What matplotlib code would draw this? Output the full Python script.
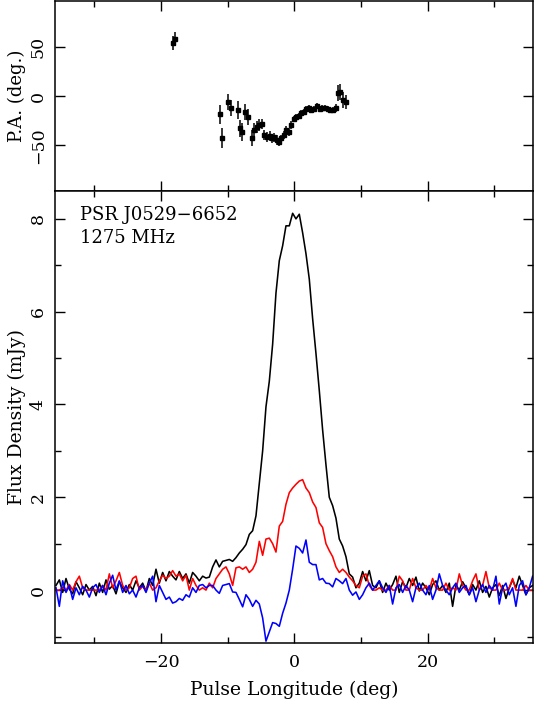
import numpy as np
import matplotlib
matplotlib.use("Agg")
import matplotlib.pyplot as plt
from matplotlib.ticker import MultipleLocator

# ---------------- data ----------------
lon_start = -35.75
lon_step = 0.5

total_I = [
    0.10, 0.22, -0.05, 0.25, 0.02, -0.08, 0.18, 0.05, -0.10, 0.12, 0.00, 0.08, -0.12, 0.15, -0.05, 0.22,
    0.02, 0.10, -0.08, 0.18, 0.05, -0.05, 0.12, 0.00, 0.20, 0.05, 0.15, -0.02, 0.25, 0.10, 0.45, 0.15,
    0.38, 0.20, 0.40, 0.30, 0.22, 0.40, 0.25, 0.35, 0.15, 0.38, 0.30, 0.20,
    0.30, 0.26, 0.28, 0.50, 0.65, 0.50, 0.62, 0.64, 0.66, 0.62, 0.70, 0.80, 0.88, 0.98, 1.20, 1.28,
    1.60, 2.30, 3.00, 3.95, 4.50, 5.30, 6.40, 7.10, 7.42, 7.85, 7.85, 8.12, 8.00, 8.10, 7.70, 7.25,
    6.70, 5.85, 5.10, 4.30, 3.45, 2.70, 2.00, 1.82, 1.55, 1.10, 0.95, 0.72, 0.35, 0.28, 0.05,
    0.15, 0.40, 0.20, 0.42, 0.10, 0.05, 0.20, -0.05, 0.15, 0.00, 0.12, 0.30, -0.05, 0.18, 0.05, 0.25,
    0.10, 0.28, -0.02, 0.15, 0.05, -0.10, 0.12, 0.20, 0.00, 0.10, -0.05, 0.15, -0.35, 0.10, 0.00, 0.18,
    0.05, -0.10, 0.12, 0.00, 0.20, -0.05, 0.08, -0.15, 0.05, 0.12, -0.12, 0.10, -0.18, 0.05, 0.22, 0.05,
    0.30, 0.10, -0.10, 0.05, 0.10,
]

linear_L = [
    0.00, 0.00, 0.05, 0.00, 0.12, 0.00, 0.18, 0.30, 0.05, 0.00, 0.00, 0.00, 0.00, 0.00, 0.10, 0.00,
    0.35, 0.05, 0.20, 0.38, 0.10, 0.00, 0.05, 0.25, 0.30, 0.00, 0.08, 0.00, 0.15, 0.00, 0.05, 0.20,
    0.32, 0.25, 0.30, 0.42, 0.30, 0.35, 0.20, 0.32, 0.00, 0.25, 0.10, 0.00,
    0.05, 0.00, 0.15, 0.05, 0.25, 0.35, 0.45, 0.50, 0.35, 0.10, 0.48, 0.50, 0.45, 0.50, 0.38, 0.45,
    0.60, 1.05, 0.75, 1.10, 1.12, 1.00, 0.82, 1.38, 1.48, 1.85, 2.10, 2.20, 2.28, 2.35, 2.38, 2.20,
    2.10, 1.90, 1.78, 1.45, 1.35, 1.00, 0.85, 0.72, 0.50, 0.38, 0.45, 0.38, 0.28, 0.20, 0.10,
    0.05, 0.30, 0.35, 0.10, 0.00, 0.00, 0.05, 0.00, 0.00, 0.10, 0.00, 0.00, 0.30, 0.20, 0.00, 0.00,
    0.25, 0.05, 0.00, 0.00, 0.10, 0.00, 0.25, 0.05, 0.00, 0.00, 0.15, 0.00, 0.05, 0.00, 0.35, 0.10,
    0.00, 0.00, 0.20, 0.35, 0.00, 0.10, 0.40, 0.05, 0.00, 0.00, 0.15, 0.00, 0.00, 0.05, 0.25, 0.00,
    0.00, 0.00, 0.10, 0.00, 0.00,
]

circular_V = [
    0.05, -0.35, 0.20, -0.05, 0.10, -0.20, 0.05, -0.10, 0.08, 0.00, -0.15, 0.05, 0.12, -0.05, 0.10, -0.10,
    0.15, 0.32, 0.00, 0.20, -0.05, 0.10, -0.08, 0.00, -0.15, 0.05, 0.10, -0.05, 0.15, 0.30, -0.25, 0.10,
    -0.05, -0.20, -0.15, -0.28, -0.25, -0.18, -0.22, -0.10, -0.15, 0.05, -0.05, 0.10,
    0.12, 0.05, 0.10, 0.10, 0.00, -0.07, 0.10, 0.12, 0.14, -0.04, -0.05, -0.20, -0.36, -0.10, -0.20, -0.35,
    -0.22, -0.30, -0.60, -1.10, -0.90, -0.70, -0.72, -0.78, -0.50, -0.28, 0.00, 0.45, 0.95, 0.90, 0.80, 1.08,
    0.60, 0.55, 0.55, 0.22, 0.25, 0.15, 0.14, 0.07, 0.25, 0.20, 0.14, 0.25, 0.00, -0.11, -0.04,
    -0.20, -0.10, 0.05, 0.15, 0.00, 0.10, 0.20, 0.05, -0.05, 0.10, -0.30, 0.05, 0.12, -0.05, 0.10, 0.00,
    -0.25, 0.05, 0.15, 0.00, -0.10, 0.10, -0.20, 0.00, 0.35, 0.10, 0.00, -0.10, 0.05, 0.15, -0.05, 0.05,
    0.10, -0.10, 0.05, -0.25, 0.00, 0.12, -0.05, 0.10, 0.00, 0.30, -0.30, 0.05, 0.15, -0.10, 0.05, -0.35,
    0.10, 0.20, -0.10, 0.05, 0.30,
]

pa_lon = [-18.2, -17.9, -11.2, -10.9, -9.9, -9.5, -8.4, -8.1, -7.8, -7.4, -7.0, -6.4, -6.0, -5.6, -5.3,
          -4.9, -4.5, -4.1, -3.7, -3.3, -3.0, -2.6, -2.3, -2.0, -1.6, -1.2, -0.8, -0.45, -0.1, 0.3,
          0.65, 1.05, 1.4, 1.8, 2.2, 2.55, 2.9, 3.4, 3.8, 4.2, 4.6, 5.0, 5.4, 5.8, 6.2, 6.6, 6.9, 7.3, 7.7]
pa_deg = [53.4, 57.8, -18.6, -42.3, -5.7, -12.5, -14.2, -32.8, -36.2, -15.9, -21.0, -42.3, -34.5, -31.1, -29.4,
          -28.7, -39.6, -41.3, -40.3, -42.9, -41.9, -44.6, -46.3, -42.9, -39.6, -34.5, -36.2, -29.4, -23.3, -21.0,
          -20.0, -17.6, -15.9, -13.2, -11.8, -14.2, -13.2, -9.8, -13.2, -12.5, -12.5, -13.2, -14.2, -14.2, -12.5,
          2.7, 4.4, -4.1, -5.7]
pa_err = [7, 7, 10, 10, 8, 8, 9, 9, 9, 8, 8, 8, 7, 6, 6,
          5, 5, 5, 5, 5, 5, 5, 4, 4, 4, 4, 4, 4, 3, 3,
          3, 3, 3, 3, 3, 3, 3, 3, 3, 3, 3, 3, 3, 3, 4,
          8, 8, 8, 7]

x_ticks_major = [-20, 0, 20]
flux_ticks = [0, 2, 4, 6, 8]
pa_ticks = [-50, 0, 50]

# ---------------- plot ----------------
lon = lon_start + lon_step * np.arange(len(total_I))

plt.rcParams['font.family'] = ['DejaVu Serif']
plt.rcParams['axes.linewidth'] = 1.1

fig = plt.figure(figsize=(5.34, 7.08), dpi=100)
ax1 = fig.add_axes([0.103, 0.7302, 0.895, 0.2684])
ax2 = fig.add_axes([0.103, 0.0918, 0.895, 0.6384])

xlim = (-35.9, 35.8)

ax1.errorbar(pa_lon, pa_deg, yerr=pa_err, fmt='s', ms=3.2, color='black',
             ecolor='black', elinewidth=1.1, capsize=0)
ax1.set_xlim(*xlim)
ax1.set_ylim(-96, 96)
ax1.set_yticks(pa_ticks)
ax1.set_xticks(x_ticks_major)
ax1.xaxis.set_minor_locator(MultipleLocator(10))
ax1.set_xticklabels([])
ax1.set_ylabel('P.A. (deg.)', fontsize=13, labelpad=3)

ax2.plot(lon, total_I, color='black', lw=1.15)
ax2.plot(lon, linear_L, color='red', lw=1.15)
ax2.plot(lon, circular_V, color='blue', lw=1.15)
ax2.set_xlim(*xlim)
ax2.set_ylim(-1.14, 8.6)
ax2.set_xticks(x_ticks_major)
ax2.set_xticklabels(['\u221220', '0', '20'])
ax2.xaxis.set_minor_locator(MultipleLocator(10))
ax2.set_yticks(flux_ticks)
ax2.yaxis.set_minor_locator(MultipleLocator(1))
ax2.set_xlabel('Pulse Longitude (deg)', fontsize=13.5, labelpad=7)
ax2.set_ylabel('Flux Density (mJy)', fontsize=13.5, labelpad=3)

ax1.set_yticklabels(['\u221250', '0', '50'])

for ax in (ax1, ax2):
    ax.tick_params(which='both', direction='in', top=True, right=True, labelsize=12.5)
    ax.tick_params(which='major', length=7, width=1.0)
    ax.tick_params(which='minor', length=4, width=1.0)
    for lbl in ax.get_yticklabels():
        lbl.set_rotation(90)
        lbl.set_va('center')
ax1.tick_params(axis='y', pad=6)
ax2.tick_params(axis='y', pad=6)
ax2.tick_params(axis='x', pad=8)

ax2.text(0.052, 0.947, 'PSR J0529\u22126652', transform=ax2.transAxes, fontsize=13,
         va='center', ha='left')
ax2.text(0.052, 0.895, '1275 MHz', transform=ax2.transAxes, fontsize=13,
         va='center', ha='left')

fig.savefig('out.png', dpi=100)
